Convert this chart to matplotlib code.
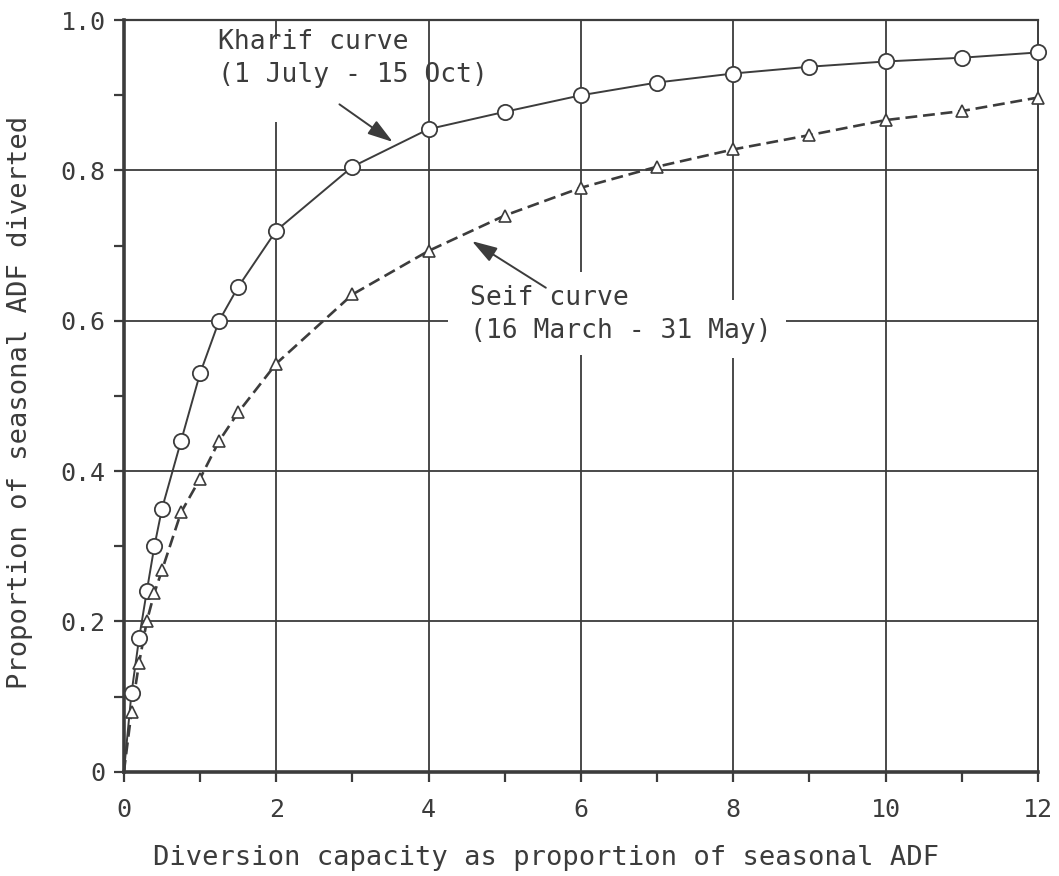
import matplotlib
matplotlib.use("Agg")
import matplotlib.pyplot as plt
from matplotlib.ticker import MultipleLocator, FixedLocator

# Diversion capacity (as proportion of seasonal ADF)
kharif_x = [0, 0.1, 0.2, 0.3, 0.4, 0.5, 0.75, 1.0, 1.25, 1.5, 2, 3, 4, 5, 6, 7, 8, 9, 10, 11, 12]
kharif_y = [0, 0.105, 0.178, 0.24, 0.30, 0.35, 0.44, 0.53, 0.60, 0.645, 0.72,
            0.805, 0.855, 0.878, 0.90, 0.917, 0.929, 0.938, 0.945, 0.95, 0.957]

seif_x = [0, 0.1, 0.2, 0.3, 0.4, 0.5, 0.75, 1.0, 1.25, 1.5, 2, 3, 4, 5, 6, 7, 8, 9, 10, 11, 12]
seif_y = [0, 0.08, 0.145, 0.20, 0.238, 0.268, 0.345, 0.39, 0.44, 0.478, 0.543,
          0.635, 0.693, 0.74, 0.777, 0.805, 0.828, 0.847, 0.867, 0.879, 0.897]

x_ticks = [0, 2, 4, 6, 8, 10, 12]
x_ticklabels = ["0", "2", "4", "6", "8", "10", "12"]
y_ticks = [0, 0.2, 0.4, 0.6, 0.8, 1.0]
y_ticklabels = ["0", "0.2", "0.4", "0.6", "0.8", "1.0"]

INK = "#3c3c3c"
plt.rcParams["font.family"] = ["DejaVu Sans Mono"]

fig = plt.figure(figsize=(10.59, 8.76), dpi=100)
ax = fig.add_axes([0.117, 0.119, 0.863, 0.858])
ax.set_xlim(0, 12)
ax.set_ylim(0, 1.0)

# grid, with breaks where the annotation text sits
grid_kw = dict(color=INK, lw=1.3, zorder=1)
ax.vlines(2, 0, 0.865, **grid_kw)
ax.vlines(2, 0.975, 1.0, **grid_kw)
ax.vlines(4, 0, 1.0, **grid_kw)
ax.vlines(6, 0, 0.555, **grid_kw)
ax.vlines(6, 0.665, 1.0, **grid_kw)
ax.vlines(8, 0, 0.55, **grid_kw)
ax.vlines(8, 0.627, 1.0, **grid_kw)
ax.vlines(10, 0, 1.0, **grid_kw)
for yv in (0.2, 0.4, 0.8):
    ax.hlines(yv, 0, 12, **grid_kw)
ax.hlines(0.6, 0, 4.26, **grid_kw)
ax.hlines(0.6, 8.7, 12, **grid_kw)

# curves
ax.plot(kharif_x, kharif_y, color=INK, lw=1.4, zorder=3, clip_on=False)
ax.plot(kharif_x[1:], kharif_y[1:], ls="none", marker="o", ms=11, mfc="white",
        mec=INK, mew=1.3, zorder=4, clip_on=False)
ax.plot(seif_x, seif_y, color=INK, lw=1.9, ls=(0, (4.5, 2.2)), zorder=3, clip_on=False)
ax.plot(seif_x[1:], seif_y[1:], ls="none", marker="^", ms=8.5, mfc="white",
        mec=INK, mew=1.2, zorder=4, clip_on=False)

# annotations
ax.text(1.23, 0.988, "Kharif curve\n(1 July - 15 Oct)", fontsize=19, color=INK,
        va="top", ha="left", linespacing=1.35, zorder=2)
ax.annotate("", xy=(3.53, 0.838), xytext=(2.83, 0.888),
            arrowprops=dict(arrowstyle="-|>,head_length=0.7,head_width=0.22",
                            color=INK, lw=1.4, mutation_scale=22,
                            shrinkA=0, shrinkB=0), zorder=5)
ax.text(4.55, 0.648, "Seif curve\n(16 March - 31 May)", fontsize=19, color=INK,
        va="top", ha="left", linespacing=1.35, zorder=2)
ax.annotate("", xy=(4.57, 0.706), xytext=(5.54, 0.644),
            arrowprops=dict(arrowstyle="-|>,head_length=0.7,head_width=0.22",
                            color=INK, lw=1.4, mutation_scale=22,
                            shrinkA=0, shrinkB=0), zorder=5)

# axes frame
for side, w in (("left", 2.6), ("bottom", 2.6), ("top", 1.6), ("right", 1.4)):
    ax.spines[side].set_linewidth(w)
    ax.spines[side].set_color(INK)

ax.xaxis.set_major_locator(FixedLocator(x_ticks))
ax.set_xticklabels(x_ticklabels)
ax.xaxis.set_minor_locator(MultipleLocator(1))
ax.yaxis.set_major_locator(FixedLocator(y_ticks))
ax.set_yticklabels(y_ticklabels)
ax.yaxis.set_minor_locator(MultipleLocator(0.1))
ax.tick_params(axis="both", which="both", direction="out", color=INK,
               width=1.6, length=7, labelsize=18, labelcolor=INK)
ax.tick_params(axis="x", which="major", pad=12)
ax.tick_params(axis="y", which="major", pad=6)

ax.set_xlabel("Diversion capacity as proportion of seasonal ADF", fontsize=19.5,
              color=INK)
ax.set_ylabel("Proportion of seasonal ADF diverted", fontsize=19.5, color=INK)
ax.xaxis.set_label_coords(0.462, -0.098)
ax.yaxis.set_label_coords(-0.099, 0.492)

fig.savefig("out.png", dpi=100, facecolor="white")
